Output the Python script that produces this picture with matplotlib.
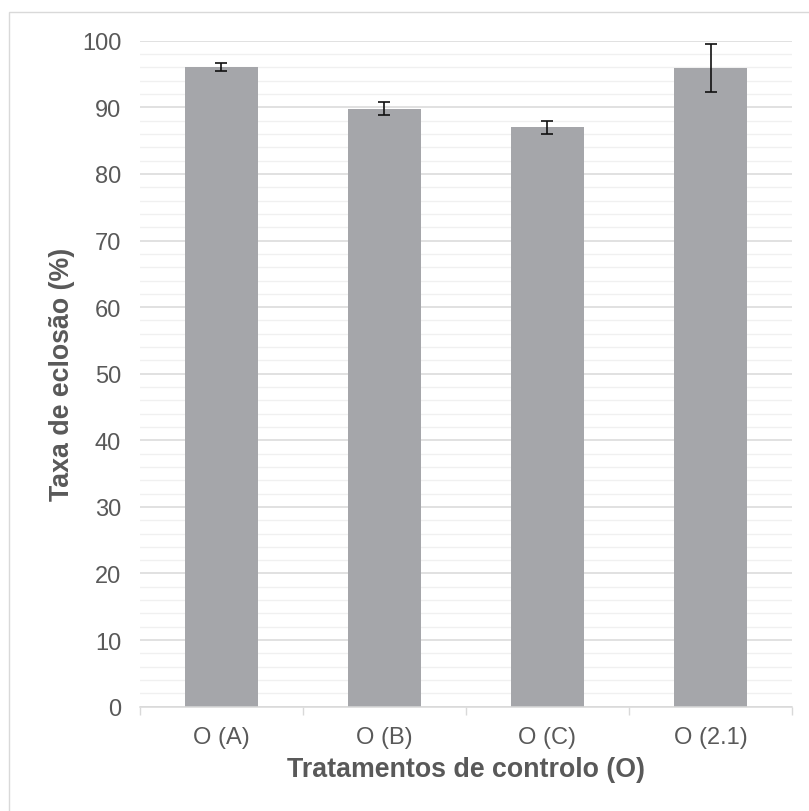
"""
Bar chart: hatching rate for the control treatments (O), with error bars.
"""
import matplotlib
matplotlib.use('Agg')
import matplotlib.pyplot as plt
from matplotlib.patches import Rectangle
from matplotlib.ticker import MultipleLocator, FixedLocator

plt.rcParams['font.family'] = ['Liberation Sans', 'DejaVu Sans']

# data
treatments = ['O (A)', 'O (B)', 'O (C)', 'O (2.1)']
hatch_rate = [96.0, 89.8, 87.0, 95.9]
hatch_err = [0.6, 1.0, 1.0, 3.6]

TEXT_COLOR = '#595959'
BAR_COLOR = '#a5a6aa'
GRID_MAJOR = '#d9d9d9'
GRID_MINOR = '#f0f0f0'

fig = plt.figure(figsize=(8.09, 8.12), dpi=100)
ax = fig.add_axes([0.173, 0.1285, 0.806, 0.820])

# outer chart border (only top and left fall inside the picture)
fig.patches.append(Rectangle((8.5 / 809, -0.1), 1.2, (1 - 13 / 812) + 0.1,
                             transform=fig.transFigure, fill=False,
                             edgecolor='#d9d9d9', linewidth=1.0))

xpos = range(len(treatments))
ax.bar(xpos, hatch_rate, width=0.45, color=BAR_COLOR, zorder=3)
ax.errorbar(xpos, hatch_rate, yerr=hatch_err, fmt='none', ecolor='#111111',
            elinewidth=1.2, capsize=4.5, capthick=1.2, zorder=4)

# axes
ax.set_xlim(-0.5, len(treatments) - 0.5)
ax.set_ylim(0, 100)
ax.yaxis.set_major_locator(MultipleLocator(10))
ax.yaxis.set_minor_locator(MultipleLocator(2))
ax.grid(True, axis='y', which='major', color=GRID_MAJOR, linewidth=1.1, zorder=0)
ax.grid(True, axis='y', which='minor', color=GRID_MINOR, linewidth=1.0, zorder=0)

ax.set_xticks(list(xpos))
ax.set_xticklabels(treatments)
ax.xaxis.set_minor_locator(FixedLocator([i - 0.5 for i in range(len(treatments) + 1)]))
ax.tick_params(axis='x', which='major', length=0, pad=14, labelsize=17, labelcolor=TEXT_COLOR)
ax.tick_params(axis='x', which='minor', length=6, width=1, color=GRID_MAJOR)
ax.tick_params(axis='y', which='both', length=0, pad=13.5, labelsize=17, labelcolor=TEXT_COLOR)

for side in ['top', 'right', 'left']:
    ax.spines[side].set_visible(False)
ax.spines['bottom'].set_color(GRID_MAJOR)
ax.spines['bottom'].set_linewidth(1.1)
ax.spines['bottom'].set_zorder(5)

ax.set_ylabel('Taxa de eclosão (%)', fontsize=19.3, fontweight='bold',
              color=TEXT_COLOR, labelpad=5)
ax.set_xlabel('Tratamentos de controlo (O)', fontsize=19.3, fontweight='bold',
              color=TEXT_COLOR, labelpad=6)

fig.savefig('out.png', dpi=100)
plt.close(fig)
